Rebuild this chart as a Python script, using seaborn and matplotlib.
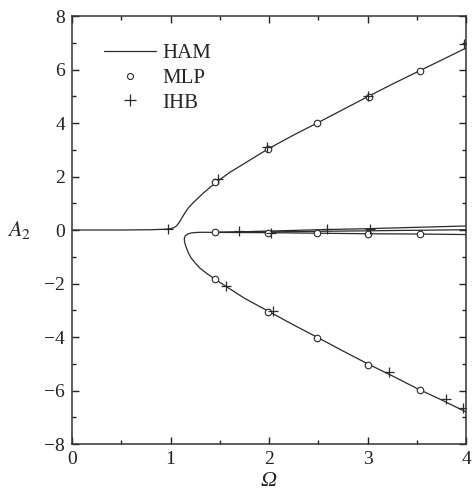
import matplotlib
matplotlib.use("Agg")
import matplotlib.pyplot as plt
import seaborn as sns
import pandas as pd
from matplotlib.lines import Line2D
from matplotlib.ticker import MultipleLocator

# ---- data ----
# HAM: upper (resonant) branch
ham_up_omega = [0.0, 0.5, 0.8, 0.95, 1.0, 1.03, 1.06, 1.09, 1.12, 1.15, 1.18, 1.22, 1.27, 1.33,
                1.40, 1.47, 1.6, 1.8, 2.0, 2.25, 2.5, 2.75, 3.0, 3.25, 3.5, 3.75, 4.0]
ham_up_a = [0.0, 0.0, 0.01, 0.03, 0.05, 0.08, 0.15, 0.29, 0.48, 0.66, 0.82, 0.98, 1.16, 1.37,
            1.59, 1.80, 2.15, 2.60, 3.05, 3.55, 4.02, 4.50, 4.98, 5.45, 5.90, 6.35, 6.80]
# HAM: nose + lower branch
ham_low_omega = [1.45, 1.35, 1.27, 1.21, 1.175, 1.15, 1.14, 1.142, 1.15, 1.165, 1.185, 1.21,
                 1.25, 1.30, 1.37, 1.45, 1.56, 1.75, 2.0, 2.25, 2.5, 2.75, 3.0, 3.25, 3.5,
                 3.75, 4.0]
ham_low_a = [-0.09, -0.085, -0.09, -0.11, -0.15, -0.22, -0.31, -0.42, -0.55, -0.70, -0.88,
             -1.05, -1.23, -1.43, -1.63, -1.83, -2.10, -2.55, -3.05, -3.55, -4.03, -4.52,
             -5.0, -5.45, -5.92, -6.35, -6.8]
# HAM: near-zero branches
ham_zero_omega = [1.45, 2.0, 2.5, 3.0, 3.5, 4.0]
ham_zero_a1 = [-0.09, -0.04, 0.01, 0.05, 0.10, 0.15]
ham_zero_a2 = [-0.09, -0.07, -0.05, -0.03, -0.01, 0.01]
ham_zero_a3 = [-0.09, -0.10, -0.12, -0.14, -0.15, -0.17]

# MLP (circles)
mlp_omega = [1.45, 1.99, 2.49, 3.02, 3.53,
             1.45, 1.99, 2.49, 3.01, 3.53,
             1.45, 1.99, 2.49, 3.01, 3.53]
mlp_a = [1.78, 3.03, 4.01, 4.98, 5.95,
         -0.09, -0.12, -0.12, -0.15, -0.16,
         -1.83, -3.08, -4.05, -5.03, -5.98]

# IHB (plus)
ihb_omega = [0.97, 1.48, 1.98, 3.01, 3.98,
             1.70, 2.02, 2.59, 3.03,
             1.56, 2.04, 3.22, 3.80, 3.97]
ihb_a = [0.04, 1.90, 3.11, 5.02, 6.95,
         -0.04, -0.10, 0.02, 0.05,
         -2.09, -3.03, -5.30, -6.33, -6.64]

x_ticks = [0, 1, 2, 3, 4]
y_ticks = [-8, -6, -4, -2, 0, 2, 4, 6, 8]
legend_labels = ["HAM", "MLP", "IHB"]

# ---- style ----
sns.set_theme(style="ticks")
plt.rcParams["font.family"] = ["Liberation Serif", "DejaVu Serif"]
plt.rcParams["mathtext.fontset"] = "stix"

fig = plt.figure(figsize=(4.72, 4.94), dpi=100)
ax = fig.add_axes([72 / 472, 1 - 444 / 494, 394 / 472, 428 / 494])

line_col = "#2a2a2a"
lw = 0.9
for xs, ys in [(ham_up_omega, ham_up_a), (ham_low_omega, ham_low_a),
               (ham_zero_omega, ham_zero_a1), (ham_zero_omega, ham_zero_a2),
               (ham_zero_omega, ham_zero_a3)]:
    df = pd.DataFrame({"Omega": xs, "A": ys})
    sns.lineplot(data=df, x="Omega", y="A", sort=False, estimator=None,
                 color=line_col, linewidth=lw, ax=ax)

df_mlp = pd.DataFrame({"Omega": mlp_omega, "A": mlp_a})
sns.scatterplot(data=df_mlp, x="Omega", y="A", marker="o", s=22,
                facecolor="white", edgecolor=line_col, linewidth=0.8, ax=ax, zorder=3)
df_ihb = pd.DataFrame({"Omega": ihb_omega, "A": ihb_a})
sns.scatterplot(data=df_ihb, x="Omega", y="A", marker="+", s=60,
                color=line_col, linewidth=0.9, ax=ax, zorder=4)

ax.set_xlim(0, 4)
ax.set_ylim(-8, 8)
ax.set_xticks(x_ticks)
ax.set_yticks(y_ticks)
ax.set_xticklabels([str(t) for t in x_ticks])
ax.set_yticklabels([str(t).replace("-", "\u2212") for t in y_ticks])
ax.xaxis.set_minor_locator(MultipleLocator(0.5))
ax.yaxis.set_minor_locator(MultipleLocator(1))
ax.tick_params(which="both", direction="in", top=True, right=True,
               labelsize=14, colors="#222222", width=1.0)
ax.tick_params(which="major", length=5, pad=5)
ax.tick_params(which="minor", length=3)
for sp in ax.spines.values():
    sp.set_visible(True)
    sp.set_linewidth(1.1)
    sp.set_color("#333333")

ax.set_xlabel("\u03a9", fontsize=16, fontstyle="italic")
ax.xaxis.set_label_coords(0.5, -0.098)
ax.xaxis.label.set_va("baseline")
ax.set_ylabel(r"$A_2$", fontsize=16, rotation=0)
ax.yaxis.set_label_coords(-0.135, 0.5)
ax.yaxis.label.set_va("center")

handles = [Line2D([], [], color=line_col, lw=lw),
           Line2D([], [], ls="none", marker="o", markersize=4.3, markerfacecolor="white",
                  markeredgecolor=line_col, markeredgewidth=0.8),
           Line2D([], [], ls="none", marker="+", markersize=8, color=line_col,
                  markeredgewidth=0.9)]
ax.legend(handles, legend_labels, loc="upper left", bbox_to_anchor=(0.06, 0.955),
          frameon=False, fontsize=15, handlelength=2.5, handletextpad=0.3,
          labelspacing=0.25, borderaxespad=0)

fig.savefig("out.png", dpi=100)
